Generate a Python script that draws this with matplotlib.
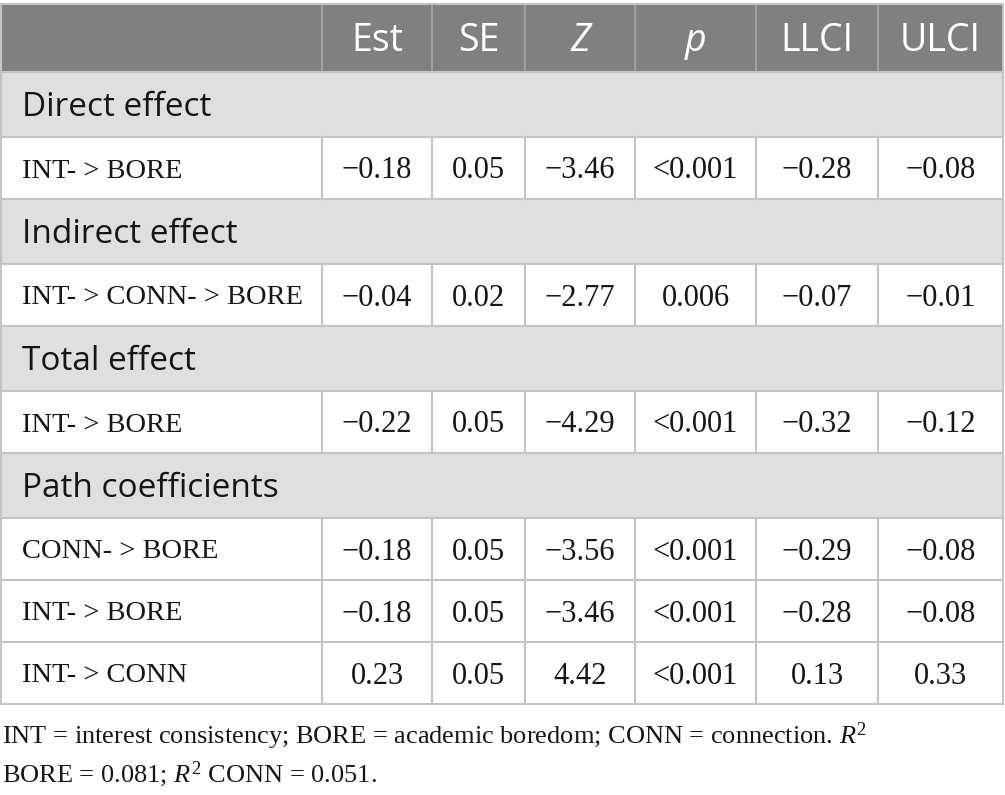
import matplotlib.pyplot as plt
from matplotlib.patches import Rectangle

plt.rcParams['mathtext.fontset'] = 'custom'
plt.rcParams['mathtext.rm'] = 'Liberation Serif'
plt.rcParams['mathtext.it'] = 'Liberation Serif:italic'

# table content
columns = ['Est', 'SE', 'Z', 'p', 'LLCI', 'ULCI']
italic_cols = ['Z', 'p']
sections = ['Direct effect', 'Indirect effect', 'Total effect', 'Path coefficients']
row_labels = [
    ['INT- > BORE'],
    ['INT- > CONN- > BORE'],
    ['INT- > BORE'],
    ['CONN- > BORE', 'INT- > BORE', 'INT- > CONN'],
]
row_values = [
    [['\u22120.18', '0.05', '\u22123.46', '<0.001', '\u22120.28', '\u22120.08']],
    [['\u22120.04', '0.02', '\u22122.77', '0.006', '\u22120.07', '\u22120.01']],
    [['\u22120.22', '0.05', '\u22124.29', '<0.001', '\u22120.32', '\u22120.12']],
    [['\u22120.18', '0.05', '\u22123.56', '<0.001', '\u22120.29', '\u22120.08'],
     ['\u22120.18', '0.05', '\u22123.46', '<0.001', '\u22120.28', '\u22120.08'],
     ['0.23', '0.05', '4.42', '<0.001', '0.13', '0.33']],
]
footnote = ['INT = interest consistency; BORE = academic boredom; CONN = connection. $\\mathit{R}^{2}$',
            'BORE = 0.081; $\\mathit{R}^{2}$ CONN = 0.051.']

# layout in pixels
W, H = 1005, 795
col_edges = [1, 322, 432, 525, 635, 756, 878, 1003]
header_top, header_bot = 4, 72
sec_h, row_h = 65, 62

header_bg = '#808080'
section_bg = '#e0dfe0'
line_c = '#c4c4c4'
text_c = '#161616'
sans = 'Open Sans'
serif = 'Liberation Serif'

fig = plt.figure(figsize=(W / 100, H / 100), dpi=100)
ax = fig.add_axes([0, 0, 1, 1])
ax.set_xlim(0, W)
ax.set_ylim(H, 0)
ax.axis('off')

left, right = col_edges[0], col_edges[-1]

# header
ax.add_patch(Rectangle((left, header_top), right - left, header_bot - header_top,
                       facecolor=header_bg, edgecolor='none'))
for x in col_edges[1:-1]:
    ax.plot([x, x], [header_top, header_bot], color='#a6a6a6', lw=1.2)
for i, name in enumerate(columns):
    cx = (col_edges[i + 1] + col_edges[i + 2]) / 2
    ax.text(cx, (header_top + header_bot) / 2 + 3, name, color='white', fontsize=27,
            family=sans, ha='center', va='center',
            style='italic' if name in italic_cols else 'normal')

y = header_bot
hlines = [header_top, header_bot]
for sec, labels, vals in zip(sections, row_labels, row_values):
    ax.add_patch(Rectangle((left, y), right - left, sec_h, facecolor=section_bg, edgecolor='none'))
    ax.text(22, y + sec_h / 2 + 3, sec, fontsize=24, family=sans, color=text_c,
            ha='left', va='center')
    y += sec_h
    hlines.append(y)
    for lab, row in zip(labels, vals):
        ax.text(22, y + row_h / 2 + 3, lab, fontsize=20.5, family=serif, color=text_c,
                ha='left', va='center')
        for j, v in enumerate(row):
            cx = (col_edges[j + 1] + col_edges[j + 2]) / 2
            ax.text(cx, y + row_h / 2 + 3, v, fontsize=22, family=serif, color=text_c,
                    ha='center', va='center')
        for x in col_edges[1:-1]:
            ax.plot([x, x], [y, y + row_h], color=line_c, lw=1.5)
        y += row_h
        hlines.append(y)

for yy in hlines:
    ax.plot([left, right], [yy, yy], color=line_c, lw=1.5)
ax.plot([left, left], [header_top, y], color=line_c, lw=1.5)
ax.plot([right, right], [header_top, y], color=line_c, lw=1.5)

# footnote
ax.text(2, 744, footnote[0], fontsize=19, family=serif, color=text_c, ha='left', va='baseline')
ax.text(2, 782, footnote[1], fontsize=19, family=serif, color=text_c, ha='left', va='baseline')

fig.savefig('out.png', dpi=100)
